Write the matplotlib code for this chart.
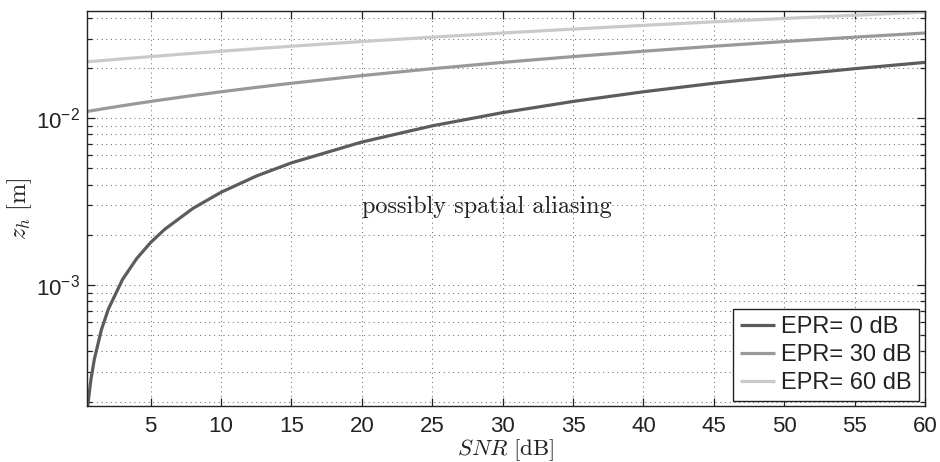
import math
import matplotlib
matplotlib.use("Agg")
import matplotlib.pyplot as plt
from matplotlib.ticker import LogLocator, FuncFormatter, MultipleLocator, NullFormatter

plt.rcParams['font.family'] = ['Liberation Sans', 'DejaVu Sans']
plt.rcParams['mathtext.fontset'] = 'custom'
plt.rcParams['mathtext.rm'] = 'Liberation Sans'
plt.rcParams['mathtext.it'] = 'Liberation Sans:italic'

# SNR axis samples [dB]
snr = [0.5, 0.75, 1, 1.5, 2, 3, 4, 5, 6, 8, 10, 12.5, 15, 20, 25, 30,
       35, 40, 45, 50, 55, 60]

# hologram depth z_h [m] for each echo power ratio
z_epr0 = [0.00018, 0.00027, 0.00036, 0.00054, 0.00072, 0.00108, 0.00144,
          0.0018, 0.00216, 0.00288, 0.0036, 0.0045, 0.0054, 0.0072, 0.009,
          0.0108, 0.0126, 0.0144, 0.0162, 0.018, 0.0198, 0.0216]
z_epr30 = [0.01098, 0.01107, 0.01116, 0.01134, 0.01152, 0.01188, 0.01224,
           0.0126, 0.01296, 0.01368, 0.0144, 0.0153, 0.0162, 0.018, 0.0198,
           0.0216, 0.0234, 0.0252, 0.027, 0.0288, 0.0306, 0.0324]
z_epr60 = [0.02178, 0.02187, 0.02196, 0.02214, 0.02232, 0.02268, 0.02304,
           0.0234, 0.02376, 0.02448, 0.0252, 0.0261, 0.027, 0.0288, 0.0306,
           0.0324, 0.0342, 0.036, 0.0378, 0.0396, 0.0414, 0.0432]

labels = ['EPR= 0 dB', 'EPR= 30 dB', 'EPR= 60 dB']
colors = ['#5c5c5c', '#999999', '#cacaca']

fig = plt.figure(figsize=(9.4, 4.62), dpi=100)
ax = fig.add_axes([0.0929, 0.1212, 0.8911, 0.855])

for z, lab, c in zip([z_epr0, z_epr30, z_epr60], labels, colors):
    ax.plot(snr, z, color=c, lw=2.3, label=lab, solid_capstyle='butt')

ax.set_yscale('log')
ax.set_xlim(0.5, 60)
ax.set_ylim(1.885e-4, 0.0439)

ax.xaxis.set_major_locator(MultipleLocator(5))
ax.xaxis.set_major_formatter(FuncFormatter(lambda v, p: '%d' % v if v >= 5 else ''))
ax.yaxis.set_major_locator(LogLocator(base=10))
ax.yaxis.set_minor_locator(LogLocator(base=10, subs=range(2, 10)))
ax.yaxis.set_minor_formatter(NullFormatter())


def dec_fmt(v, p):
    e = int(round(math.log10(v)))
    return r'$\mathdefault{10^{%d}}$' % e


ax.yaxis.set_major_formatter(FuncFormatter(dec_fmt))

ax.tick_params(which='both', direction='in', top=True, right=True,
               labelsize=16, colors='#222222', width=0.9)
ax.tick_params(which='major', length=6)
ax.tick_params(which='minor', length=3.5)
ax.tick_params(axis='x', which='major', pad=7)
ax.tick_params(axis='y', which='major', pad=5)
for s in ax.spines.values():
    s.set_linewidth(1.0)
    s.set_color('#222222')

dots = (0, (1, 3.5))
ax.grid(True, which='major', ls=dots, lw=0.75, color='#707070')
ax.grid(True, which='minor', axis='y', ls=dots, lw=0.75, color='#707070')

ax.set_xlabel(r'$SNR\ [\mathrm{dB}]$', fontsize=16.5, math_fontfamily='cm',
              color='#222222')
ax.xaxis.set_label_coords(0.5, -0.078)
ax.set_ylabel(r'$z_h\ [\mathrm{m}]$', fontsize=17.5, math_fontfamily='cm',
              color='#222222')
ax.yaxis.set_label_coords(-0.064, 0.5)

ax.text(28.9, 2.94e-3, 'possibly spatial aliasing', fontsize=17.5,
        family='cmr10', ha='center', va='center', color='#222222')

leg = ax.legend(loc='lower right', bbox_to_anchor=(0.9928, 0.0127),
                borderaxespad=0, fontsize=17, handlelength=1.5,
                handletextpad=0.25, labelspacing=0.25, borderpad=0.3,
                fancybox=False, framealpha=1, edgecolor='#222222')
leg.get_frame().set_linewidth(1.0)
for t in leg.get_texts():
    t.set_color('#222222')

fig.savefig('out.png', dpi=100)
